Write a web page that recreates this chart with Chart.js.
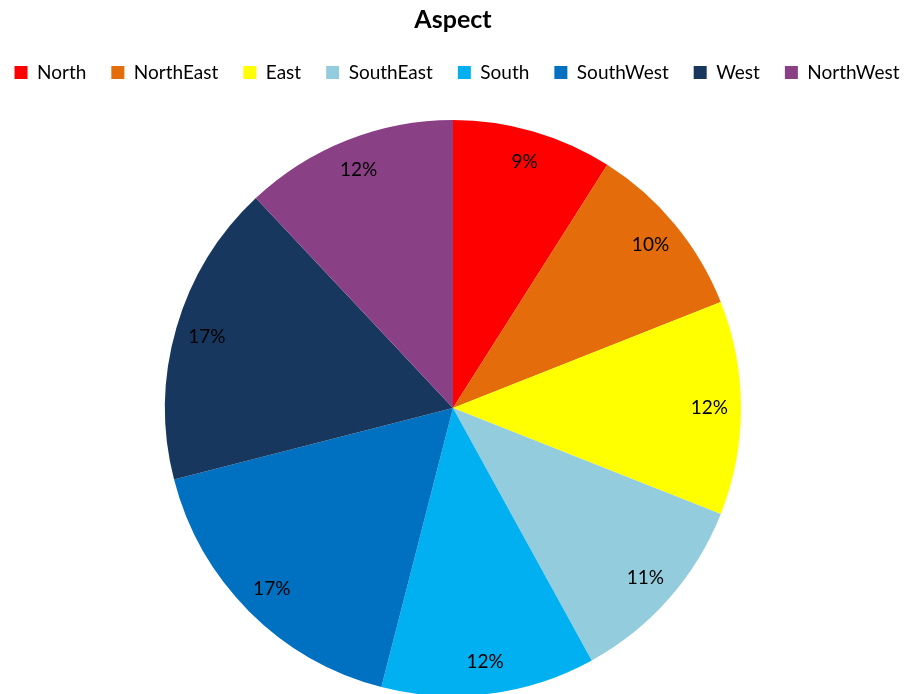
<!DOCTYPE html>
<html>
<head>
<meta charset="utf-8">
<script src="https://cdn.jsdelivr.net/npm/chart.js@4"></script>
<style>
  html, body { margin: 0; padding: 0; background: #fff; overflow: hidden; }
  #wrap { width: 913px; height: 696px; }
</style>
</head>
<body>
<div id="wrap"><canvas id="aspectPie"></canvas></div>
<script>
const aspects = ["North", "NorthEast", "East", "SouthEast", "South", "SouthWest", "West", "NorthWest"];
const shares = [9, 10, 12, 11, 12, 17, 17, 12];
const sliceColors = ["#ff0000", "#e46c0a", "#ffff00", "#93cddd", "#00b0f0", "#0070c0", "#17375e", "#8a4085"];

// percentage text inside each slice
const sliceLabels = {
  id: "sliceLabels",
  afterDatasetsDraw(chart) {
    const { ctx } = chart;
    const meta = chart.getDatasetMeta(0);
    ctx.save();
    ctx.font = "19px Lato";
    ctx.fillStyle = "#000";
    ctx.textAlign = "center";
    ctx.textBaseline = "middle";
    meta.data.forEach((arc, i) => {
      const mid = (arc.startAngle + arc.endAngle) / 2;
      const r = arc.outerRadius * 0.89;
      ctx.fillText(shares[i] + "%", arc.x + Math.cos(mid) * r, arc.y + Math.sin(mid) * r);
    });
    ctx.restore();
  },
};

// keep the legend on one row and leave room under it before the pie
const legendRow = {
  id: "legendRow",
  beforeInit(chart) {
    const fit = chart.legend.fit;
    chart.legend.fit = function () {
      const maxW = this.maxWidth;
      this.maxWidth = maxW + 60;
      fit.bind(this)();
      this.maxWidth = maxW;
      this.width = maxW;
      this.height += 28;
    };
  },
  afterLayout(chart) {
    chart.legend.left -= 20;
    chart.legend.right += 28;
  },
};

const pieCtx = document.getElementById("aspectPie");

new Chart(pieCtx, {
  type: "pie",
  data: {
    labels: aspects,
    datasets: [
      {
        data: shares,
        backgroundColor: sliceColors,
        borderWidth: 0,
      },
    ],
  },
  options: {
    responsive: true,
    maintainAspectRatio: false,
    animation: false,
    layout: { padding: { top: 0, bottom: 0, right: 7 } },
    plugins: {
      title: {
        display: true,
        text: "Aspect",
        color: "#000",
        font: { family: "Lato", size: 25, weight: "bold" },
        padding: { top: 5, bottom: 3 },
      },
      legend: {
        position: "top",
        labels: {
          color: "#000",
          boxWidth: 13,
          boxHeight: 13,
          padding: 25,
          font: { family: "Lato", size: 19 },
        },
      },
      tooltip: { enabled: false },
    },
  },
  plugins: [sliceLabels, legendRow],
});
</script>
</body>
</html>
